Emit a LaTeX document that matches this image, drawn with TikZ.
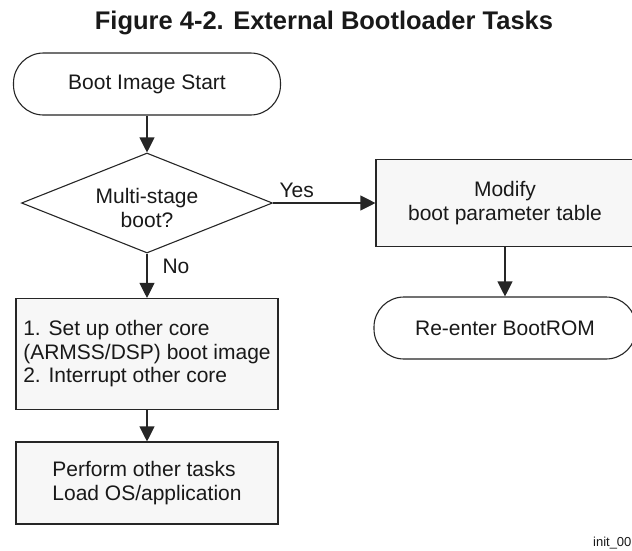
\documentclass[tikz,border=0pt]{standalone}
\usepackage{fontspec}
\setmainfont{Liberation Sans}
\usetikzlibrary{shapes.geometric,arrows.meta}

\begin{document}
\begin{tikzpicture}[x=1pt, y=-1pt, line width=1.1pt, draw=black!85,
                    every node/.style={font=\fontsize{21}{23.5}\selectfont,
                                       text=black!90,
                                       inner sep=0pt},
                    term/.style={draw, fill=white, rounded corners=30pt,
                                 minimum width=262pt, minimum height=62pt},
                    task/.style={draw, fill=black!3, align=center,
                                 minimum width=262pt},
                    test/.style={draw, fill=white, diamond, aspect=2.5,
                                 align=center, minimum width=251pt,
                                 minimum height=100pt},
                    arr/.style={-{Triangle[length=15pt, width=15pt]}}]
  \useasboundingbox (0, 0) rectangle (632, 550);

  \node[font=\fontsize{25.5}{28}\selectfont\bfseries] (title) at (324, 23)
       {Figure 4-2. External Bootloader Tasks};

  \node[term, minimum width=267pt] (start) at (147, 84) {Boot Image Start};
  \node[test] (dec) at (147, 203) {\rule{0pt}{25pt}Multi-stage\\boot?};
  \node[task, minimum width=258pt, minimum height=87pt] (mod) at (505, 203)
       {Modify\\boot parameter table};
  \node[term] (reenter) at (505, 328) {Re-enter BootROM};
  \node[task, align=left, minimum height=111pt] (setup) at (147, 354)
       {1. Set up other core\\(ARMSS/DSP) boot image\\2. Interrupt other core};
  \node[task, align=left, minimum height=82pt] (perform) at (147, 483)
       {Perform other tasks\\Load OS/application};

  \node[anchor=base west] (yes) at ([xshift=6pt, yshift=6pt]dec.east) {Yes};
  \node[anchor=base west] (no) at (162, 273) {No};
  \node[anchor=base east, font=\fontsize{13}{15}\selectfont] (tag) at (632, 546)
       {init\_00};

  \foreach \i/\j in {start/dec, dec/setup, setup/perform, dec/mod, mod/reenter} {
          \draw[arr] (\i) -- (\j);
      }
\end{tikzpicture}
\end{document}
